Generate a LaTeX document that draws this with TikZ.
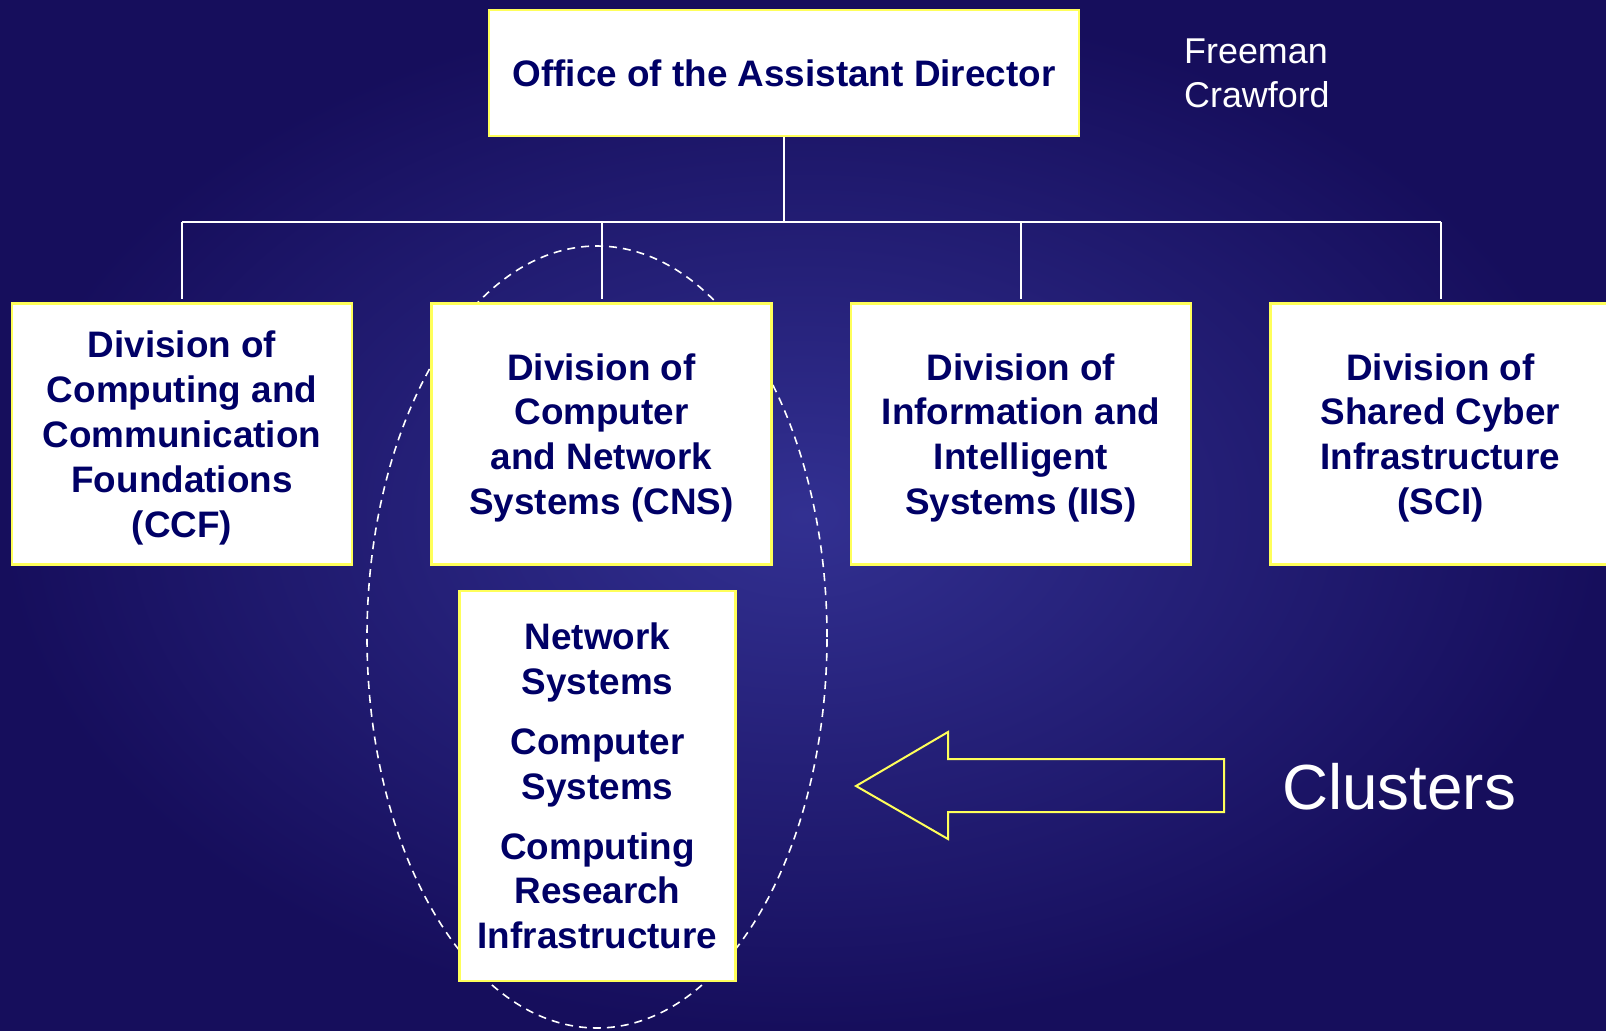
\documentclass[tikz,border=0pt]{standalone}
\usepackage{fontspec}
\setmainfont{Liberation Sans}
\usetikzlibrary{positioning}
\definecolor{navytext}{RGB}{0,0,102}
\definecolor{boxline}{RGB}{255,255,90}
\definecolor{bgdark}{RGB}{22,14,92}
\definecolor{bglight}{RGB}{50,48,145}

\begin{document}
\begin{tikzpicture}[x=1bp, y=-1bp,
    box/.style={draw=boxline, line width=2.5bp, fill=white, text=navytext, align=center, inner sep=0pt, font=\bfseries\fontsize{37}{45}\selectfont},
    division/.style={box, minimum width=340bp, minimum height=261bp, text depth=0pt},
    link/.style={draw=white, line width=2bp},
    cluster/.style={draw=white, line width=1.6bp, dash pattern=on 8bp off 6bp},
    pointer/.style={draw=boxline, line width=2bp, line join=miter}
  ]
    \useasboundingbox (0,0) rectangle (1606,1030);
    \shade[inner color=bglight, outer color=bgdark] (0,0) rectangle (1606,1030);
    \draw[cluster] (597,637) ellipse [x radius=230bp, y radius=391bp];

    \node[box, minimum width=590bp, minimum height=126bp] (office) at (784,73) {Office of the Assistant Director};
    \node[division] (ccf) at (182,434) {Division of\\Computing and\\Communication\\Foundations\\(CCF)};
    \node[division, right=77bp of ccf] (cns) {Division of\\Computer\\and Network\\Systems (CNS)};
    \node[division, right=77bp of cns] (iis) {Division of\\Information and\\Intelligent\\Systems (IIS)};
    \node[division, right=77bp of iis] (sci) {Division of\\Shared Cyber\\Infrastructure\\(SCI)};
    \node[box, minimum width=276bp, minimum height=390bp, below=24bp of cns, xshift=-4bp] (clusters) {Network\\Systems\\[15bp]Computer\\Systems\\[15bp]Computing\\Research\\Infrastructure};
    \node[text=white, align=left, anchor=west, inner sep=0pt, font=\fontsize{36}{44}\selectfont] (names) at (1184,73) {Freeman\\Crawford};
    \node[text=white, inner sep=0pt, font=\fontsize{64}{70}\selectfont] (label) at (1399,787) {Clusters};

    \coordinate (bus) at (office.south |- 0,222);
    \draw[link] (office) -- (bus);
    \draw[link] (ccf.north |- bus) -- (sci.north |- bus);
    \foreach \d in {ccf,cns,iis,sci}
      \draw[link, shorten >=3bp] (\d.north |- bus) -- (\d.north);
    \draw[pointer] (856,786) -- (948,732) -- (948,759) -- (1224,759) -- (1224,812) -- (948,812) -- (948,839) -- cycle;
  \end{tikzpicture}
\end{document}
